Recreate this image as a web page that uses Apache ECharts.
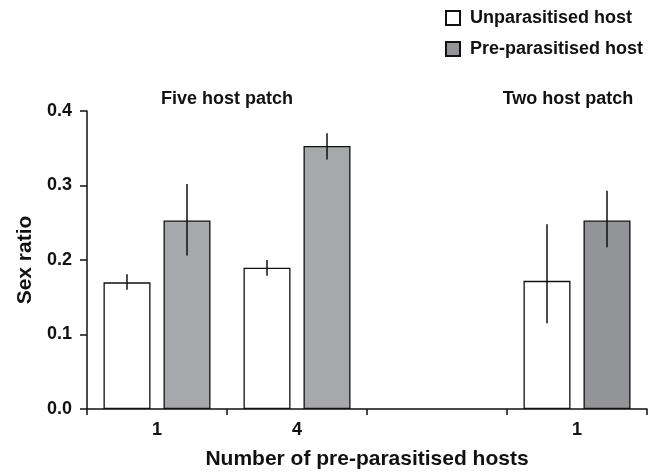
<!DOCTYPE html>
<html>
<head>
<meta charset="utf-8">
<script src="https://cdn.jsdelivr.net/npm/echarts@6/dist/echarts.min.js"></script>
<style>
html,body{margin:0;padding:0;background:#fff;}
#chart{width:660px;height:472px;}
</style>
</head>
<body>
<div id="chart"></div>
<script>
var categories = ['1', '4', '', '1'];
var unparasitised = [0.170, 0.1895, null, 0.172];
var unparasitisedLow = [0.160, 0.179, null, 0.115];
var unparasitisedHigh = [0.181, 0.200, null, 0.248];
var preParasitised = [0.253, 0.353, null, 0.253];
var preParasitisedLow = [0.206, 0.335, null, 0.217];
var preParasitisedHigh = [0.302, 0.370, null, 0.293];
var yTicks = [0, 0.1, 0.2, 0.3, 0.4];
var seriesNames = ['Unparasitised host', 'Pre-parasitised host'];
var panelTitles = ['Five host patch', 'Two host patch'];

var FONT = '"Liberation Sans", Arial, sans-serif';
var INK = '#111111';
var LIGHT_GREY = '#a7a8ac';
var DARK_GREY = '#939498';

var chart = echarts.init(document.getElementById('chart'), null, {renderer: 'canvas'});

var BAR_FRAC = 47 / 140;
var GAP_FRAC = 13 / 140;

function errData(low, high) {
  var out = [];
  for (var i = 0; i < low.length; i++) {
    if (low[i] != null) out.push([i, low[i], high[i]]);
  }
  return out;
}

function errSeries(low, high, sign) {
  return {
    type: 'custom',
    silent: true,
    z: 5,
    data: errData(low, high),
    renderItem: function (params, api) {
      var band = api.size([1, 0])[0];
      var off = sign * (BAR_FRAC + GAP_FRAC) / 2 * band;
      var p1 = api.coord([api.value(0), api.value(1)]);
      var p2 = api.coord([api.value(0), api.value(2)]);
      var x = p1[0] + off;
      return {
        type: 'line',
        shape: {x1: x, y1: p1[1], x2: x, y2: p2[1]},
        style: {stroke: INK, lineWidth: 1.5}
      };
    }
  };
}

var preData = preParasitised.map(function (v, i) {
  return {value: v, itemStyle: {color: i < 2 ? LIGHT_GREY : DARK_GREY}};
});

var option = {
  backgroundColor: '#fff',
  animation: false,
  textStyle: {fontFamily: FONT},
  title: [
    {text: panelTitles[0], left: 227, top: 90, textAlign: 'center', padding: 0,
     textStyle: {fontFamily: FONT, fontSize: 18, fontWeight: 'bold', color: INK}},
    {text: panelTitles[1], left: 568, top: 90, textAlign: 'center', padding: 0,
     textStyle: {fontFamily: FONT, fontSize: 18, fontWeight: 'bold', color: INK}}
  ],
  legend: {
    orient: 'vertical',
    left: 445,
    top: 9,
    padding: 0,
    itemWidth: 14,
    itemHeight: 14,
    itemGap: 13,
    icon: 'rect',
    data: seriesNames,
    textStyle: {fontFamily: FONT, fontSize: 18, fontWeight: 'bold', color: INK, padding: [0, 0, 0, 5]}
  },
  grid: {left: 87, right: 13, top: 111, bottom: 63, containLabel: false, outerBoundsMode: 'none'},
  xAxis: {
    type: 'category',
    data: categories,
    boundaryGap: true,
    name: 'Number of pre-parasitised hosts',
    nameLocation: 'middle',
    nameGap: 40,
    nameTextStyle: {fontFamily: FONT, fontSize: 21, fontWeight: 'bold', color: INK},
    axisLine: {lineStyle: {color: INK, width: 1.5}},
    axisTick: {show: true, length: 6, lineStyle: {color: INK, width: 1.5}},
    axisLabel: {margin: 12, fontFamily: FONT, fontSize: 18, fontWeight: 'bold', color: INK},
    splitLine: {show: false}
  },
  yAxis: {
    type: 'value',
    min: yTicks[0],
    max: yTicks[yTicks.length - 1],
    interval: 0.1,
    name: 'Sex ratio',
    nameLocation: 'middle',
    nameGap: 50,
    nameRotate: 90,
    nameTextStyle: {fontFamily: FONT, fontSize: 21, fontWeight: 'bold', color: INK},
    axisLine: {show: true, lineStyle: {color: INK, width: 1.5}},
    axisTick: {show: true, length: 7, lineStyle: {color: INK, width: 1.5}},
    axisLabel: {margin: 15, fontFamily: FONT, fontSize: 18, fontWeight: 'bold', color: INK,
      formatter: function (v) { return v.toFixed(1); }},
    splitLine: {show: false}
  },
  series: [
    {
      name: seriesNames[0],
      type: 'bar',
      data: unparasitised,
      barWidth: (BAR_FRAC * 100) + '%',
      barGap: (13 / 47 * 100) + '%',
      itemStyle: {color: '#ffffff', borderColor: INK, borderWidth: 1.3}
    },
    {
      name: seriesNames[1],
      type: 'bar',
      data: preData,
      barWidth: (BAR_FRAC * 100) + '%',
      barGap: (13 / 47 * 100) + '%',
      itemStyle: {color: DARK_GREY, borderColor: INK, borderWidth: 1.3}
    },
    errSeries(unparasitisedLow, unparasitisedHigh, -1),
    errSeries(preParasitisedLow, preParasitisedHigh, 1)
  ]
};

chart.setOption(option);
</script>
</body>
</html>
